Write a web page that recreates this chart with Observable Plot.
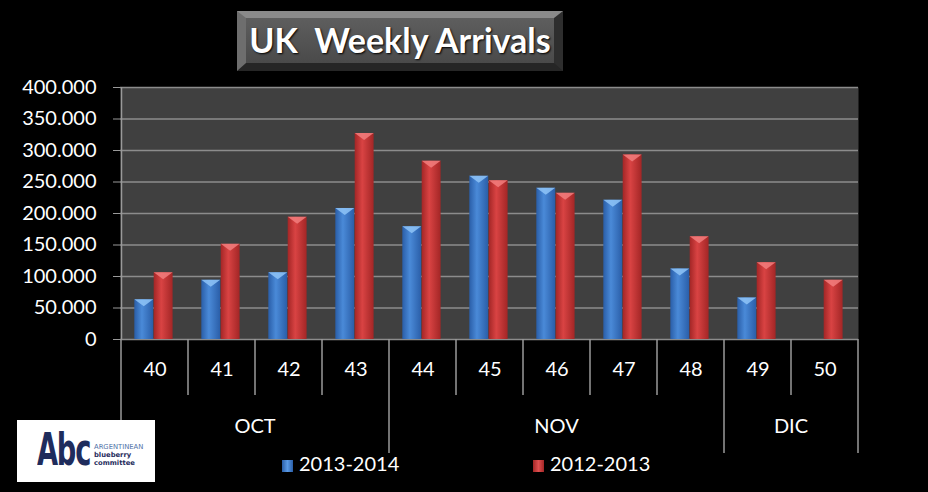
<!DOCTYPE html>
<html><head><meta charset="utf-8">
<script src="https://cdn.jsdelivr.net/npm/d3@7"></script>
<script src="https://cdn.jsdelivr.net/npm/@observablehq/plot@0.6"></script>
<style>
html,body{margin:0;padding:0;background:#000;}
#wrap{position:relative;width:928px;height:492px;background:#000;overflow:hidden;font-family:Lato,"Open Sans",sans-serif;}
#chart{position:absolute;left:0;top:0;}
#title{position:absolute;left:237px;top:11px;width:326px;height:60px;box-sizing:border-box;
  border-style:solid;border-width:7px 9px 8px 9px;
  border-color:#8a8a8a #2e2e2e #262626 #6e6e6e;
  background:linear-gradient(#5e5e5e,#4a4a4a);
  color:#fff;font-weight:bold;font-size:34px;line-height:44px;text-align:center;white-space:pre;
  text-shadow:1px 1px 2px #000;box-shadow:0 0 6px #000;}
.leg{position:absolute;top:451px;color:#fff;font-size:20px;line-height:24px;white-space:nowrap;}
.sw{display:inline-block;width:11px;height:12px;margin-right:6px;vertical-align:-1px;}
#logo{position:absolute;left:17px;top:420px;width:138px;height:62px;background:#fff;overflow:hidden;}
#logo .big{position:absolute;left:20px;top:4px;font-size:44px;font-weight:bold;color:#1f2c5c;letter-spacing:-2px;line-height:52px;font-family:"DejaVu Sans",sans-serif;transform:scaleX(0.62);transform-origin:left top;}
#logo .small{position:absolute;left:77px;top:23px;font-size:6.8px;line-height:8px;font-family:"DejaVu Sans",sans-serif;white-space:nowrap;}
</style></head>
<body>
<div id="wrap">
  <div id="chart"></div>
  <div id="title">UK  Weekly Arrivals</div>
  <div class="leg" style="left:282px"><span class="sw" style="background:linear-gradient(90deg,#2a5ea8,#5a9ae6,#2a5ea8)"></span>2013-2014</div>
  <div class="leg" style="left:533px"><span class="sw" style="background:linear-gradient(90deg,#a32626,#e05050,#a32626)"></span>2012-2013</div>
  <div id="logo">
    <div class="big">Abc</div>
    <div class="small"><span style="color:#4f72a8">ARGENTINEAN</span><br><b style="color:#1f2c5c">blueberry</b><br><b style="color:#1f2c5c">committee</b></div>
  </div>
</div>
<script>
const weeks = ["40","41","42","43","44","45","46","47","48","49","50"];
const months = ["OCT","OCT","OCT","OCT","NOV","NOV","NOV","NOV","NOV","DIC","DIC"];
const series = ["2013-2014","2012-2013"];
const values2013_2014 = [63000, 94000, 106000, 208000, 179000, 259000, 240000, 221000, 112000, 66000, null];
const values2012_2013 = [106000, 151000, 194000, 327000, 283000, 252000, 232000, 293000, 163000, 122000, 94000];
const yTicks = [0, 50000, 100000, 150000, 200000, 250000, 300000, 350000, 400000];

const dataA = weeks.map((w, i) => ({week: w, month: months[i], series: series[0], value: values2013_2014[i]})).filter(d => d.value != null);
const dataB = weeks.map((w, i) => ({week: w, month: months[i], series: series[1], value: values2012_2013[i]})).filter(d => d.value != null);

const fmt = d => d === 0 ? "0" : d3.format(",")(d).replace(/,/g, ".");

const insA = {insetLeft: 13.3, insetRight: 34.8};
const insB = {insetLeft: 32.7, insetRight: 15.4};

function bevels(data, ins, color) {
  return (index, scales, values, dims) => {
    const g = d3.create("svg:g");
    const x = scales.x, bw = x.bandwidth();
    data.forEach(d => {
      const xl = x(d.week) + ins.insetLeft, xr = x(d.week) + bw - ins.insetRight, yt = scales.y(d.value);
      const xc = (xl + xr) / 2;
      g.append("polygon").attr("points", `${xl},${yt} ${xr},${yt} ${xc},${yt + 7}`).attr("fill", color).attr("opacity", 0.85);
    });
    return g.node();
  };
}

function categoryAxis(index, scales, values, dims) {
  const g = d3.create("svg:g").attr("stroke", "#9a9a9a").attr("stroke-width", 1.5);
  const x = scales.x, bw = x.bandwidth();
  const y0 = dims.height - dims.marginBottom;
  weeks.forEach((w, i) => {
    const left = x(w);
    const monthStart = i === 0 || months[i] !== months[i - 1];
    g.append("line").attr("x1", left).attr("x2", left).attr("y1", y0).attr("y2", y0 + (monthStart ? 114 : 56));
  });
  const rightEdge = x(weeks[weeks.length - 1]) + bw;
  g.append("line").attr("x1", rightEdge).attr("x2", rightEdge).attr("y1", y0).attr("y2", y0 + 114);
  const uniq = [...new Set(months)];
  uniq.forEach(m => {
    const ws = weeks.filter((w, i) => months[i] === m);
    const cx = (x(ws[0]) + x(ws[ws.length - 1]) + bw) / 2;
    g.append("text").attr("x", cx).attr("y", y0 + 94).attr("text-anchor", "middle")
      .attr("fill", "#fff").attr("stroke", "none").attr("font-size", 20).attr("font-family", "Lato, sans-serif").text(m);
  });
  return g.node();
}

const chart = Plot.plot({
  width: 928, height: 492,
  marginTop: 87, marginLeft: 120, marginRight: 70, marginBottom: 153,
  style: {background: "transparent", color: "#fff", fontFamily: "Lato, sans-serif", fontSize: "20px"},
  x: {type: "band", domain: weeks, padding: 0},
  y: {domain: [0, 400000]},
  marks: [
    Plot.frame({fill: "#404040", stroke: "none"}),
    Plot.ruleY(yTicks, {stroke: "#8c8c8c", strokeWidth: 1.6}),
    Plot.ruleX([weeks[0]], {dx: -33.5, stroke: "#9a9a9a", strokeWidth: 1.5}),
    Plot.barY(dataA, {x: "week", y: "value", fill: "url(#gradBlue)", ...insA}),
    Plot.barY(dataB, {x: "week", y: "value", fill: "url(#gradRed)", ...insB}),
    bevels(dataA, insA, "#8fc4f7"),
    bevels(dataB, insB, "#f27e7e"),
    Plot.axisY({ticks: yTicks, tickFormat: fmt, tickSize: 7, tickPadding: 17, stroke: "#9a9a9a", fill: "#fff", fontSize: 20, label: null}),
    Plot.axisX({tickSize: 0, tickPadding: 22, fill: "#fff", fontSize: 20, label: null}),
    categoryAxis
  ]
});

const svg = d3.select(chart);
const defs = svg.insert("defs", ":first-child");
function grad(id, edge, mid) {
  const lg = defs.append("linearGradient").attr("id", id).attr("x1", 0).attr("x2", 1).attr("y1", 0).attr("y2", 0);
  lg.append("stop").attr("offset", "0%").attr("stop-color", edge);
  lg.append("stop").attr("offset", "40%").attr("stop-color", mid);
  lg.append("stop").attr("offset", "100%").attr("stop-color", edge);
}
grad("gradBlue", "#2a5ea8", "#4a8ad8");
grad("gradRed", "#a32626", "#d94343");
document.getElementById("chart").appendChild(chart);
</script>
</body></html>
